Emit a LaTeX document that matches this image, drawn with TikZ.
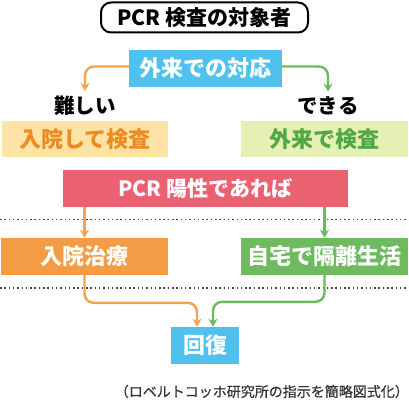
\documentclass[tikz,border=0pt]{standalone}
\usepackage{fontspec}
\setmainfont{Noto Sans CJK JP}
\newfontfamily\notefont[FakeBold=0.6]{Noto Sans CJK JP}
\usetikzlibrary{arrows.meta}
\definecolor{cblue}{HTML}{50C1EE}
\definecolor{cpink}{HTML}{EB6171}
\definecolor{corange}{HTML}{F39C45}
\definecolor{cgreen}{HTML}{6DBB5E}
\definecolor{clyel}{HTML}{FDE4A6}
\definecolor{clgrn}{HTML}{E6F0B5}
\definecolor{tor}{HTML}{EE8A22}
\definecolor{tgr}{HTML}{4FA843}
\definecolor{aor}{HTML}{F5A24A}
\definecolor{agr}{HTML}{6ABB5A}
\definecolor{dotc}{HTML}{444444}
\definecolor{notec}{HTML}{333333}
\begin{document}
\begin{tikzpicture}[x=1pt,y=1pt,
  box/.style={minimum width=#1, minimum height=37pt, inner sep=0pt, font=\fontsize{22}{24}\selectfont\bfseries, text=white},
  lab/.style={font=\fontsize{20.5}{22}\selectfont\bfseries, inner xsep=0pt, inner ysep=5pt},
  oarr/.style={draw=aor, line width=2.4pt, -{Stealth[length=8pt,width=9pt,inset=2.5pt]}},
  garr/.style={draw=agr, line width=2.4pt, -{Stealth[length=8pt,width=9pt,inset=2.5pt]}},
  dotline/.style={draw=dotc, line width=1.5pt, dash pattern=on 1.5pt off 2.8pt}]
\useasboundingbox (0,0) rectangle (409,400);
\fill[white] (0,0) rectangle (409,400);
% title
\node[draw=black, line width=2pt, rounded corners=10pt, minimum width=207pt, minimum height=30pt, inner sep=0pt,
  font=\fontsize{21}{22}\selectfont\bfseries] (title) at (204.5,382.5) {PCR 検査の対象者};
% first level
\node[box=153pt, fill=cblue] (gairai) at (205.5,331.5) {外来での対応};
\node[lab] (muzu) at (85,294) {難しい};
\node[lab] (dekiru) at (328,294) {できる};
\node[box=166pt, minimum height=36pt, fill=clyel, text=tor] (kensa1) at (85,261) {入院して検査};
\node[box=167pt, minimum height=36pt, fill=clgrn, text=tgr] (kensa2) at (324.5,261) {外来で検査};
\draw[oarr, rounded corners=9pt] ([yshift=2pt]gairai.west) -| (muzu.north);
\draw[garr, rounded corners=9pt] ([yshift=2pt]gairai.east) -| (dekiru.north);
% PCR positive
\node[box=285pt, fill=cpink, font=\fontsize{21}{24}\selectfont\bfseries] (pcr) at (205.5,211.5) {PCR 陽性であれば};
\draw[dotline] (0,180.5) coordinate (d1a) -- (409,180.5) coordinate (d1b);
\node[box=167pt, fill=corange] (chiryo) at (84.5,143.5) {入院治療};
\node[box=167pt, fill=cgreen] (jitaku) at (324.5,143.5) {自宅で隔離生活};
\draw[oarr] (pcr.south -| chiryo.north) -- (chiryo.north);
\draw[garr] (pcr.south -| jitaku.north) -- (jitaku.north);
\draw[dotline] (0,112) coordinate (d2a) -- (409,112) coordinate (d2b);
% recovery
\node[box=68pt, fill=cblue] (kaifuku) at (205,54.5) {回復};
\draw[oarr, rounded corners=9pt] (chiryo.south) |- ([xshift=-8pt,yshift=24pt]kaifuku.north) -- ([xshift=-8pt]kaifuku.north);
\draw[garr, rounded corners=9pt] (jitaku.south) |- ([xshift=8pt,yshift=25pt]kaifuku.north) -- ([xshift=8pt]kaifuku.north);
% footnote
\node[anchor=east, inner sep=0pt, text=notec, font=\notefont\fontsize{14}{15}\selectfont] (note) at (409,8.5) {（ロベルトコッホ研究所の指示を簡略図式化）};
\end{tikzpicture}
\end{document}
